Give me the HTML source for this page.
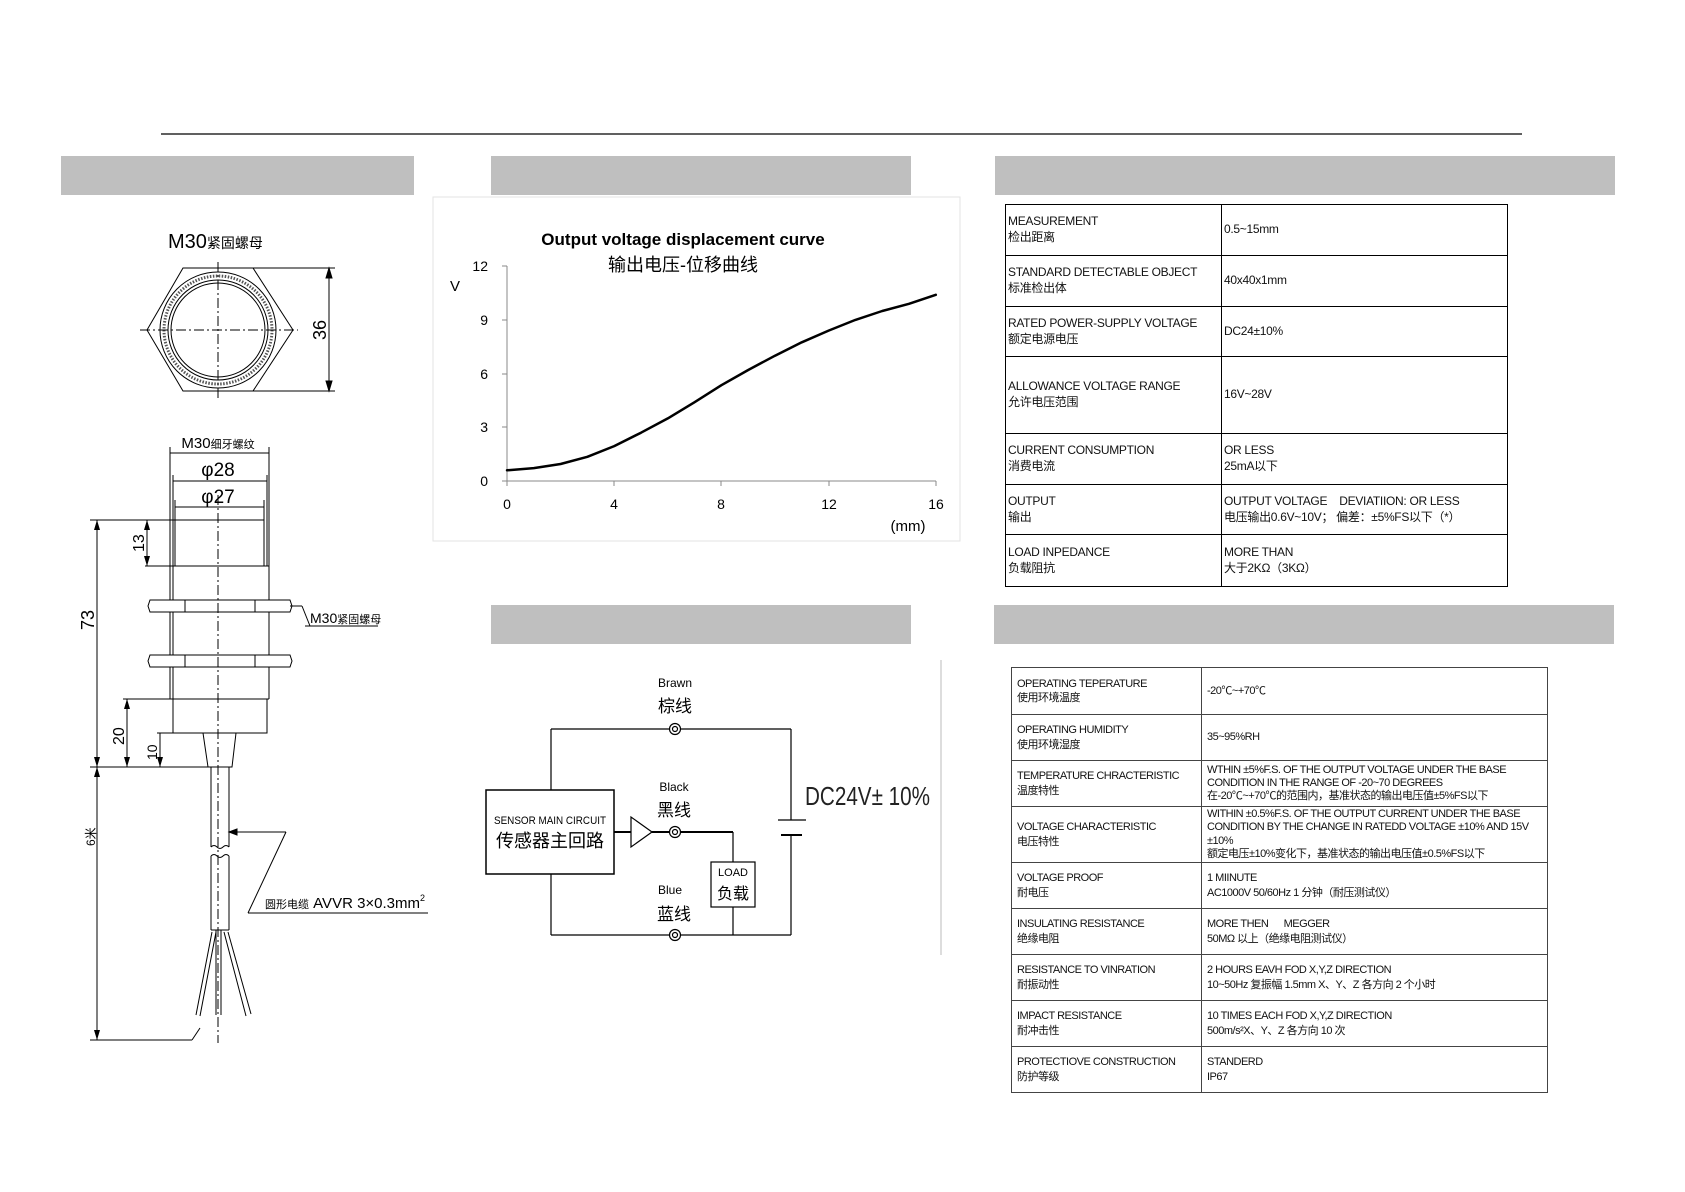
<!DOCTYPE html>
<html><head><meta charset="utf-8">
<style>
body{margin:0;background:#fff;}
#p{position:relative;width:1685px;height:1192px;overflow:hidden;background:#fff;font-family:"Liberation Sans","Noto Sans CJK SC",sans-serif;}
.bar{position:absolute;background:#bfbfbf;}
table{position:absolute;border-collapse:collapse;table-layout:fixed;}
td{padding:0 2px;vertical-align:middle;line-height:1.3;color:#111;}
#t1 td{border:1.5px solid #000;font-size:12px;letter-spacing:-0.3px;}
#t2 td{border:1.5px solid #444;font-size:11px;letter-spacing:-0.5px;padding-left:5px;}
</style></head><body><div id="p">
<div class="bar" style="left:61px;top:156px;width:353px;height:39px"></div>
<div class="bar" style="left:491px;top:156px;width:420px;height:39px"></div>
<div class="bar" style="left:995px;top:156px;width:620px;height:39px"></div>
<div class="bar" style="left:491px;top:605px;width:420px;height:39px"></div>
<div class="bar" style="left:994px;top:605px;width:620px;height:39px"></div>

<svg width="1685" height="1192" style="position:absolute;left:0;top:0" font-family="Liberation Sans, Noto Sans CJK SC, sans-serif">
<line x1="161" y1="134" x2="1522" y2="134" stroke="#000" stroke-width="1.2"/>
<!-- left drawing -->
<g stroke="#000" fill="none" stroke-width="1">
<text x="168" y="248" font-size="20" fill="#000" stroke="none">M30<tspan font-size="14">紧固螺母</tspan></text>
<polygon points="147,330 183,268 253,268 293,330 253,391 183,391"/>
<circle cx="218" cy="330" r="58"/><circle cx="218" cy="330" r="54" stroke-dasharray="1.5 1.5" stroke-width="3" stroke="#555"/><circle cx="218" cy="330" r="50"/><circle cx="218" cy="330" r="47"/>
<line x1="140" y1="330" x2="298" y2="330" stroke-dasharray="10 3 2 3"/>
<line x1="218" y1="262" x2="218" y2="398" stroke-dasharray="10 3 2 3"/>
<line x1="253" y1="268" x2="335" y2="268"/><line x1="253" y1="391" x2="335" y2="391"/>
<line x1="329" y1="268" x2="329" y2="391"/>
<polygon points="329,268 326,278 332,278" fill="#000"/><polygon points="329,391 326,381 332,381" fill="#000"/>
<text transform="translate(326,340) rotate(-90)" font-size="18" fill="#000" stroke="none">36</text>
<text x="218" y="448" font-size="15" text-anchor="middle" fill="#000" stroke="none">M30<tspan font-size="11">细牙螺纹</tspan></text>
<line x1="170" y1="453" x2="269" y2="453"/><line x1="173" y1="481" x2="267" y2="481"/><line x1="175" y1="507" x2="264" y2="507"/>
<line x1="170" y1="447" x2="170" y2="566"/><line x1="269" y1="447" x2="269" y2="566"/>
<line x1="173" y1="475" x2="173" y2="566"/><line x1="267" y1="475" x2="267" y2="566"/>
<line x1="175" y1="500" x2="175" y2="566"/><line x1="264" y1="500" x2="264" y2="566"/>
<text x="218" y="476" font-size="19" text-anchor="middle" fill="#000" stroke="none">φ28</text>
<text x="218" y="503" font-size="19" text-anchor="middle" fill="#000" stroke="none">φ27</text>
<line x1="90" y1="520" x2="264" y2="520"/>
<line x1="145" y1="566" x2="269" y2="566"/>
<line x1="170" y1="566" x2="170" y2="699"/><line x1="269" y1="566" x2="269" y2="699"/><line x1="173" y1="566" x2="173" y2="699"/>
<polygon points="150,600 290,600 292,606 290,612 150,612 148,606" fill="#fff"/>
<polygon points="150,655 290,655 292,661 290,667 150,667 148,661" fill="#fff"/>
<line x1="185" y1="600" x2="185" y2="612"/><line x1="255" y1="600" x2="255" y2="612"/>
<line x1="185" y1="655" x2="185" y2="667"/><line x1="255" y1="655" x2="255" y2="667"/>
<line x1="123" y1="699" x2="269" y2="699"/>
<rect x="173" y="699" width="94" height="34"/>
<line x1="157" y1="733" x2="173" y2="733"/>
<polygon points="203,733 236,733 232,767 208,767"/>
<line x1="90" y1="767" x2="210" y2="767"/>
<line x1="211" y1="767" x2="211" y2="847"/><line x1="229" y1="767" x2="229" y2="847"/>
<path d="M211,847 q3,-3 6,0 t6,0 t6,0 M211,856 q3,-3 6,0 t6,0 t6,0"/>
<line x1="211" y1="856" x2="211" y2="930"/><line x1="229" y1="856" x2="229" y2="930"/>
<line x1="211" y1="930" x2="229" y2="930"/>
<line x1="216" y1="930" x2="216" y2="1015"/><line x1="221" y1="930" x2="221" y2="1015"/>
<path d="M212,932 L196,1015 M216,932 L200,1016 M224,932 L246,1016 M228,932 L251,1014"/>
<line x1="218" y1="495" x2="218" y2="1043" stroke-dasharray="10 3 2 3"/>
<line x1="97" y1="520" x2="97" y2="1040"/><line x1="147" y1="520" x2="147" y2="566"/>
<line x1="127" y1="699" x2="127" y2="767"/><line x1="160" y1="733" x2="160" y2="767"/>
<g fill="#000" stroke="none">
<polygon points="97,520 94,530 100,530"/><polygon points="97,767 94,757 100,757"/><polygon points="97,767 94,777 100,777"/><polygon points="97,1040 94,1030 100,1030"/>
<polygon points="147,520 144,530 150,530"/><polygon points="147,566 144,556 150,556"/>
<polygon points="127,699 124,709 130,709"/><polygon points="127,767 124,757 130,757"/>
<polygon points="160,767 157,757 163,757"/>
</g>
<line x1="90" y1="1040" x2="192" y2="1040"/><line x1="192" y1="1040" x2="200" y2="1028"/>
<text transform="translate(94,630) rotate(-90)" font-size="18" fill="#000" stroke="none">73</text>
<text transform="translate(144,552) rotate(-90)" font-size="16" fill="#000" stroke="none">13</text>
<text transform="translate(124,745) rotate(-90)" font-size="16" fill="#000" stroke="none">20</text>
<text transform="translate(157,760) rotate(-90)" font-size="14" fill="#000" stroke="none">10</text>
<text transform="translate(95,846) rotate(-90)" font-size="12" fill="#000" stroke="none">6米</text>
<line x1="290" y1="606" x2="302" y2="606"/><line x1="302" y1="606" x2="310" y2="626"/><line x1="305" y1="626" x2="378" y2="626"/>
<text x="310" y="623" font-size="14" fill="#000" stroke="none">M30<tspan font-size="11">紧固螺母</tspan></text>
<line x1="229" y1="832" x2="286" y2="832"/><polygon points="229,832 237,829 237,835" fill="#000"/>
<line x1="286" y1="832" x2="248" y2="913"/><line x1="248" y1="913" x2="428" y2="913"/>
<text x="265" y="908" font-size="15" fill="#000" stroke="none"><tspan font-size="11">圆形电缆</tspan> AVVR 3×0.3mm<tspan font-size="9" dy="-7">2</tspan></text>
</g>
<!-- chart -->
<rect x="433" y="197" width="527" height="344" fill="none" stroke="#e3e3e3"/>
<text x="683" y="245" font-size="17" font-weight="bold" text-anchor="middle">Output voltage  displacement  curve</text>
<text x="683" y="271" font-size="18" text-anchor="middle">输出电压-位移曲线</text>
<g stroke="#888" stroke-width="1">
<line x1="507" y1="266" x2="507" y2="481"/><line x1="507" y1="481" x2="936" y2="481"/>
<line x1="502" y1="266" x2="507" y2="266"/><line x1="502" y1="320" x2="507" y2="320"/><line x1="502" y1="374" x2="507" y2="374"/><line x1="502" y1="427" x2="507" y2="427"/><line x1="502" y1="481" x2="507" y2="481"/>
<line x1="507" y1="481" x2="507" y2="486"/><line x1="614" y1="481" x2="614" y2="486"/><line x1="721" y1="481" x2="721" y2="486"/><line x1="829" y1="481" x2="829" y2="486"/><line x1="936" y1="481" x2="936" y2="486"/>
</g>
<g font-size="14" text-anchor="end"><text x="488" y="271">12</text><text x="488" y="325">9</text><text x="488" y="379">6</text><text x="488" y="432">3</text><text x="488" y="486">0</text></g>
<g font-size="14" text-anchor="middle"><text x="507" y="509">0</text><text x="614" y="509">4</text><text x="721" y="509">8</text><text x="829" y="509">12</text><text x="936" y="509">16</text></g>
<text x="908" y="531" font-size="15" text-anchor="middle">(mm)</text>
<text x="455" y="291" font-size="15" text-anchor="middle">V</text>
<polyline points="507,470.3 533.8,468.1 560.6,464 587.4,456.8 614.2,446.1 641,432.7 667.8,418.4 694.6,402.2 721.4,385.2 748.2,370 775,355.7 801.8,342.3 828.6,330.6 855.4,319.9 882.2,311 909,303.8 935.8,294.8" fill="none" stroke="#000" stroke-width="2.5" stroke-linejoin="round" stroke-linecap="round"/>
<!-- circuit -->
<g stroke="#000" fill="none" stroke-width="1.2">
<line x1="551" y1="729" x2="791" y2="729"/><line x1="551" y1="729" x2="551" y2="790"/>
<line x1="551" y1="874" x2="551" y2="935"/><line x1="551" y1="935" x2="791" y2="935"/>
<line x1="791" y1="729" x2="791" y2="820"/><line x1="791" y1="835" x2="791" y2="935"/>
<line x1="778" y1="820" x2="806" y2="820"/><line x1="781" y1="835" x2="802" y2="835" stroke-width="2"/>
<rect x="486" y="790" width="128" height="84" stroke-width="1.5"/>
<line x1="614" y1="832" x2="631" y2="832" stroke-width="2"/>
<polygon points="631,817 631,847 652,832"/>
<line x1="652" y1="832" x2="733" y2="832" stroke-width="2"/>
<line x1="733" y1="832" x2="733" y2="862"/><rect x="711" y="862" width="44" height="45"/><line x1="733" y1="907" x2="733" y2="935"/>
<g fill="#fff"><circle cx="675" cy="729" r="5.5"/><circle cx="675" cy="832" r="5.5"/><circle cx="675" cy="935" r="5.5"/></g>
<circle cx="675" cy="729" r="2.5"/><circle cx="675" cy="832" r="2.5"/><circle cx="675" cy="935" r="2.5"/>
</g>
<line x1="941" y1="660" x2="941" y2="955" stroke="#bbb"/>
<g text-anchor="middle">
<text x="675" y="687" font-size="12">Brawn</text><text x="675" y="712" font-size="17">棕线</text>
<text x="674" y="791" font-size="12">Black</text><text x="674" y="816" font-size="17">黑线</text>
<text x="670" y="894" font-size="12">Blue</text><text x="674" y="920" font-size="17">蓝线</text>
<text x="550" y="824" font-size="11" textLength="112" lengthAdjust="spacingAndGlyphs">SENSOR MAIN CIRCUIT</text><text x="550" y="847" font-size="18">传感器主回路</text>
<text x="733" y="876" font-size="11">LOAD</text><text x="733" y="899" font-size="16">负载</text>
</g>
<text x="805" y="805" font-size="26" fill="#222" textLength="125" lengthAdjust="spacingAndGlyphs">DC24V± 10%</text>
</svg>

<table id="t1" style="left:1005px;top:204px;width:502px">
<colgroup><col style="width:216px"><col style="width:286px"></colgroup>
<tr style="height:51px"><td>MEASUREMENT<br>检出距离</td><td>0.5~15mm</td></tr>
<tr style="height:51px"><td>STANDARD DETECTABLE OBJECT<br>标准检出体</td><td>40x40x1mm</td></tr>
<tr style="height:50px"><td>RATED POWER-SUPPLY VOLTAGE<br>额定电源电压</td><td>DC24±10%</td></tr>
<tr style="height:77px"><td>ALLOWANCE VOLTAGE RANGE<br>允许电压范围</td><td>16V~28V</td></tr>
<tr style="height:51px"><td>CURRENT CONSUMPTION<br>消费电流</td><td>OR LESS<br>25mA以下</td></tr>
<tr style="height:50px"><td>OUTPUT<br>输出</td><td>OUTPUT VOLTAGE &nbsp;&nbsp; DEVIATIION: OR LESS<br>电压输出0.6V~10V； 偏差：±5%FS以下（*）</td></tr>
<tr style="height:52px"><td>LOAD INPEDANCE<br>负载阻抗</td><td>MORE THAN<br>大于2KΩ（3KΩ）</td></tr>
</table>

<table id="t2" style="left:1011px;top:667px;width:536px">
<colgroup><col style="width:190px"><col style="width:346px"></colgroup>
<tr style="height:47px"><td>OPERATING TEPERATURE<br>使用环境温度</td><td>-20℃~+70℃</td></tr>
<tr style="height:46px"><td>OPERATING HUMIDITY<br>使用环境湿度</td><td>35~95%RH</td></tr>
<tr style="height:46px"><td>TEMPERATURE CHRACTERISTIC<br>温度特性</td><td style="line-height:1.2">WTHIN ±5%F.S. OF THE OUTPUT VOLTAGE UNDER THE BASE CONDITION IN THE RANGE OF -20~70 DEGREES<br>在-20℃~+70℃的范围内，基准状态的输出电压值±5%FS以下</td></tr>
<tr style="height:56px"><td>VOLTAGE CHARACTERISTIC<br>电压特性</td><td style="line-height:1.2">WITHIN ±0.5%F.S. OF THE OUTPUT CURRENT UNDER THE BASE CONDITION BY THE CHANGE IN RATEDD VOLTAGE ±10% AND 15V ±10%<br>额定电压±10%变化下，基准状态的输出电压值±0.5%FS以下</td></tr>
<tr style="height:46px"><td>VOLTAGE PROOF<br>耐电压</td><td>1 MIINUTE<br>AC1000V 50/60Hz 1 分钟（耐压测试仪）</td></tr>
<tr style="height:46px"><td>INSULATING RESISTANCE<br>绝缘电阻</td><td>MORE THEN &nbsp;&nbsp;&nbsp;&nbsp; MEGGER<br>50MΩ 以上（绝缘电阻测试仪）</td></tr>
<tr style="height:46px"><td>RESISTANCE TO VINRATION<br>耐振动性</td><td>2 HOURS EAVH FOD X,Y,Z DIRECTION<br>10~50Hz 复振幅 1.5mm X、Y、Z 各方向 2 个小时</td></tr>
<tr style="height:46px"><td>IMPACT RESISTANCE<br>耐冲击性</td><td>10 TIMES EACH FOD X,Y,Z DIRECTION<br>500m/s²X、Y、Z 各方向 10 次</td></tr>
<tr style="height:46px"><td>PROTECTIOVE CONSTRUCTION<br>防护等级</td><td>STANDERD<br>IP67</td></tr>
</table>
</div></body></html>
